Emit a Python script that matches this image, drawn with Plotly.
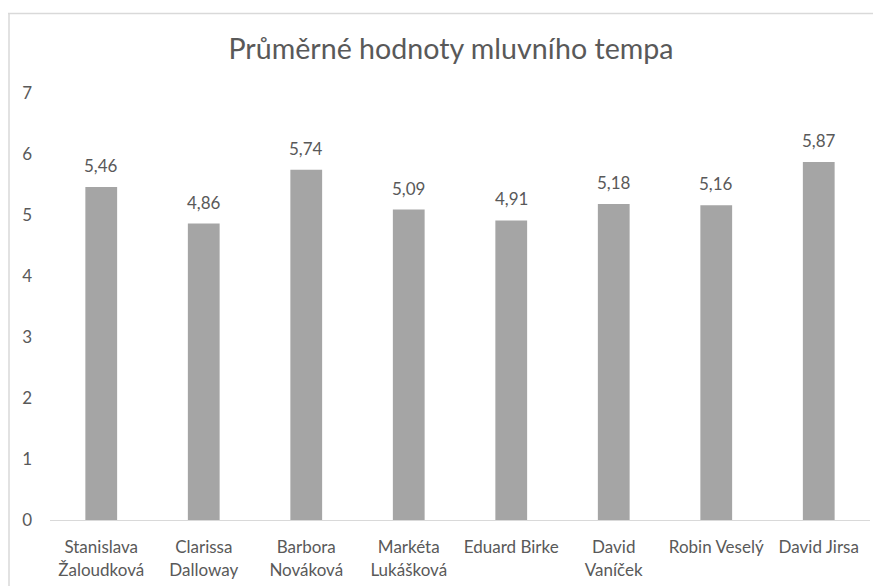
import plotly.graph_objects as go

categories = ["Stanislava<br>Žaloudková", "Clarissa<br>Dalloway", "Barbora<br>Nováková",
              "Markéta<br>Lukášková", "Eduard Birke", "David<br>Vaníček",
              "Robin Veselý", "David Jirsa"]
values = [5.46, 4.86, 5.74, 5.09, 4.91, 5.18, 5.16, 5.87]
y_ticks = [0, 1, 2, 3, 4, 5, 6, 7]
title_text = "Průměrné hodnoty mluvního tempa"

FONT = "Lato, Carlito, Calibri, sans-serif"
TXT = "#595959"

# the page body adds an 8px offset; compensate so the picture lines up
OFF = 8
L, R, T, B = 50 - OFF, 870 - OFF, 93 - OFF, 520.5 - OFF
W, H = 881, 586
PW, PH = R - L, B - T

fig = go.Figure()
fig.add_trace(go.Bar(
    x=categories, y=values,
    marker=dict(color="#A5A5A5", line=dict(width=0)),
    width=0.31,
    hoverinfo="skip",
))

for c, v in zip(categories, values):
    fig.add_annotation(
        x=c, y=v, text=f"{v:.2f}".replace(".", ","),
        showarrow=False, yanchor="bottom", yshift=9,
        font=dict(family=FONT, size=17, color=TXT),
    )

bx = (8 - OFF - L) / PW
by = (B - (13.5 - OFF)) / PH

fig.update_layout(
    width=W, height=H,
    margin=dict(l=L, r=W - R, t=T, b=H - B, autoexpand=False),
    paper_bgcolor="white", plot_bgcolor="white",
    showlegend=False,
    separators=", ",
    title=dict(text=title_text, x=(451 - OFF - L) / PW, xref="paper", xanchor="center",
               y=1 - (49 - OFF) / H, yref="container", yanchor="middle",
               font=dict(family=FONT, size=28.6, color=TXT)),
    xaxis=dict(showgrid=False, showline=True, linecolor="#D9D9D9", linewidth=1,
               ticks="", tickfont=dict(family=FONT, size=17, color=TXT),
               ticklabelstandoff=12, fixedrange=True),
    yaxis=dict(range=[0, 7], tickvals=y_ticks, showgrid=False, zeroline=False,
               showline=False, ticks="", tickfont=dict(family=FONT, size=17, color=TXT),
               ticklabelstandoff=17, fixedrange=True),
    shapes=[
        dict(type="line", xref="paper", yref="paper",
             x0=bx, x1=1.1, y0=by, y1=by,
             line=dict(color="#D9D9D9", width=1.5)),
        dict(type="line", xref="paper", yref="paper",
             x0=bx + 1 / PW, x1=bx + 1 / PW, y0=by, y1=-0.3,
             line=dict(color="#D9D9D9", width=1.5)),
    ],
)

fig.write_html("out.html")
